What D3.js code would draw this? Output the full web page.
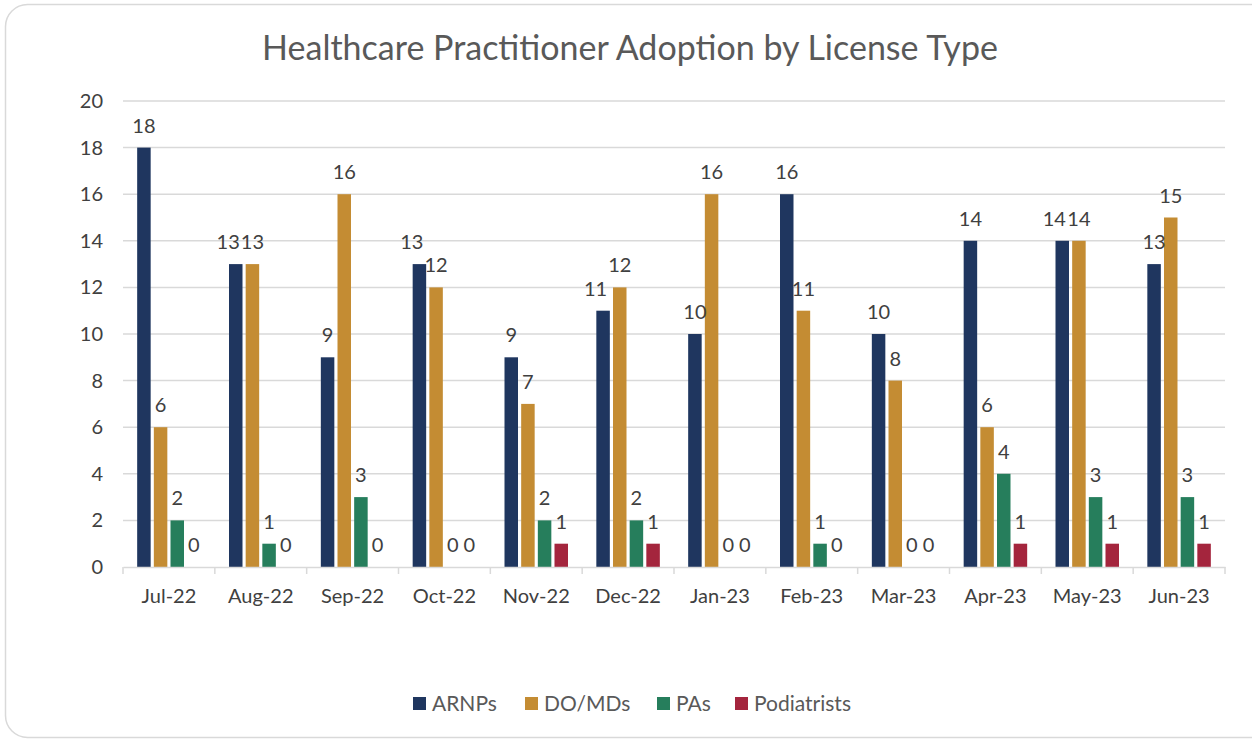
<!DOCTYPE html>
<html>
<head>
  <meta charset="utf-8">
  <style>
    body { margin: 0; background: #fff; }
    svg text { font-family: Lato, "Open Sans", sans-serif; }
  </style>
</head>
<body>
  <script src="https://cdn.jsdelivr.net/npm/d3@7/dist/d3.min.js"></script>
  <script>
    // data
    var months = ["Jul-22", "Aug-22", "Sep-22", "Oct-22", "Nov-22", "Dec-22",
                  "Jan-23", "Feb-23", "Mar-23", "Apr-23", "May-23", "Jun-23"]
    var seriesNames = ["ARNPs", "DO/MDs", "PAs", "Podiatrists"]
    var arnps = [18, 13, 9, 13, 9, 11, 10, 16, 10, 14, 14, 13]
    var domds = [6, 13, 16, 12, 7, 12, 16, 11, 8, 6, 14, 15]
    var pas = [2, 1, 3, 0, 2, 2, 0, 1, 0, 4, 3, 3]
    var podiatrists = [0, 0, 0, 0, 1, 1, 0, 0, 0, 1, 1, 1]
    var yTicks = [0, 2, 4, 6, 8, 10, 12, 14, 16, 18, 20]
    var colors = ["#1f365f", "#c48c33", "#267e5c", "#a4253d"]

    var values = [arnps, domds, pas, podiatrists]

    var w = 1252
    var h = 740
    var margin = { left: 123, right: 27, top: 101, bottom: 173 }

    var svg = d3.select("body").append("svg")
      .attr("width", w)
      .attr("height", h)

    // rounded frame
    svg.append("rect")
      .attr("x", 5.5).attr("y", 4.5)
      .attr("width", w + 20).attr("height", h - 7)
      .attr("rx", 22)
      .attr("fill", "#fff")
      .attr("stroke", "#d9d9d9")
      .attr("stroke-width", 1.5)

    svg.append("text")
      .attr("x", 630)
      .attr("y", 60)
      .attr("text-anchor", "middle")
      .attr("font-size", "34px")
      .attr("fill", "#595959")
      .text("Healthcare Practitioner Adoption by License Type")

    var x = d3.scaleBand()
      .domain(months)
      .range([margin.left, w - margin.right])

    var x1 = d3.scaleBand()
      .domain(seriesNames)
      .range([0, x.bandwidth()])
      .paddingInner(0.19)
      .paddingOuter(0.85)

    var y = d3.scaleLinear()
      .domain([0, 20])
      .range([h - margin.bottom, margin.top])

    // gridlines
    svg.append("g")
      .selectAll("line")
      .data(yTicks.slice(1))
      .enter().append("line")
      .attr("x1", margin.left)
      .attr("x2", w - margin.right)
      .attr("y1", function(d) { return y(d) })
      .attr("y2", function(d) { return y(d) })
      .attr("stroke", "#d9d9d9")
      .attr("stroke-width", 1.5)

    // y axis
    var yAxis = svg.append("g")
      .attr("transform", "translate(" + margin.left + ",0)")
      .call(d3.axisLeft(y).tickValues(yTicks).tickSize(0).tickPadding(20))
    yAxis.select(".domain").remove()
    yAxis.selectAll("text")
      .attr("font-size", "20px")
      .attr("fill", "#404040")
      .style("font-family", "Lato, sans-serif")

    function rows(i) {
      return seriesNames.map(function(s, j) { return { s: s, j: j, v: values[j][i] } })
    }

    // bars and value labels, one group per month
    svg.append("g")
      .selectAll("g")
      .data(months)
      .enter().append("g")
      .attr("transform", function(d) { return "translate(" + x(d) + ",0)" })
      .each(function(m, i) {
        var g = d3.select(this)
        g.selectAll("rect")
          .data(rows(i))
          .enter().append("rect")
          .attr("x", function(d) { return x1(d.s) })
          .attr("width", x1.bandwidth())
          .attr("y", function(d) { return y(d.v) })
          .attr("height", function(d) { return y(0) - y(d.v) })
          .attr("fill", function(d) { return colors[d.j] })

        var labels = g.selectAll("text")
          .data(rows(i))
          .enter().append("text")
          .attr("x", function(d) { return x1(d.s) + x1.bandwidth() / 2 })
          .attr("y", function(d) { return y(d.v) - 15 })
          .attr("text-anchor", "middle")
          .attr("font-size", "20px")
          .attr("fill", "#404040")
          .text(function(d) { return d.v })

        // nudge a label left when it collides with its right neighbour
        var nodes = labels.nodes()
        for (var k = nodes.length - 2; k >= 0; k--) {
          var a = nodes[k].getBBox(), b = nodes[k + 1].getBBox()
          if (Math.abs(a.y - b.y) < a.height && a.x + a.width > b.x - 1) {
            var shift = a.x + a.width - b.x + 1
            nodes[k].setAttribute("x", +nodes[k].getAttribute("x") - shift)
          }
        }
      })

    // x axis
    var xAxis = svg.append("g")
      .attr("transform", "translate(0," + y(0) + ")")
      .call(d3.axisBottom(x).tickSize(0).tickPadding(22))
    xAxis.select(".domain").attr("stroke", "#d9d9d9").attr("stroke-width", 1.5)
    xAxis.selectAll("text")
      .attr("font-size", "20px")
      .attr("fill", "#404040")
      .style("font-family", "Lato, sans-serif")
    // category separators
    xAxis.selectAll(".sep")
      .data(months.concat(["end"]))
      .enter().append("line")
      .attr("x1", function(d, i) { return margin.left + i * x.step() })
      .attr("x2", function(d, i) { return margin.left + i * x.step() })
      .attr("y1", 0).attr("y2", 7)
      .attr("stroke", "#d9d9d9")
      .attr("stroke-width", 1.5)

    // legend
    var legendX = [413, 525, 657, 735]
    var legend = svg.append("g")
      .selectAll("g")
      .data(seriesNames)
      .enter().append("g")
      .attr("transform", function(d, i) { return "translate(" + legendX[i] + ",697)" })
    legend.append("rect")
      .attr("width", 13).attr("height", 13)
      .attr("fill", function(d, i) { return colors[i] })
    legend.append("text")
      .attr("x", 19)
      .attr("y", 14)
      .attr("font-size", "21px")
      .attr("fill", "#595959")
      .text(function(d) { return d })
  </script>
</body>
</html>
